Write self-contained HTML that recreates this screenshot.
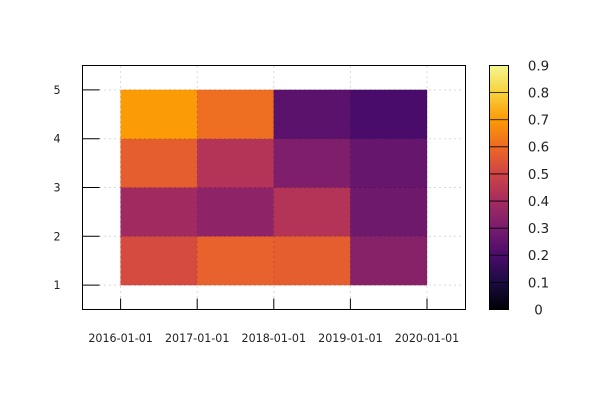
<!DOCTYPE html>
<html>
<head>
<meta charset="utf-8">
<style>
html,body{margin:0;padding:0;background:#fff;}
svg{display:block;}
text{font-family:"DejaVu Sans","Liberation Sans",sans-serif;fill:#222;}
</style>
</head>
<body>
<svg id="chart" width="600" height="400" viewBox="0 0 600 400" xmlns="http://www.w3.org/2000/svg">
  <rect x="0" y="0" width="600" height="400" fill="#ffffff"></rect>
  <g id="cells"></g>
  <g id="grid"></g>
  <g id="axes"></g>
  <g id="colorbar"></g>
</svg>
<script>
var xCategories = ["2016-01-01", "2017-01-01", "2018-01-01", "2019-01-01", "2020-01-01"];
var yCategories = [1, 2, 3, 4, 5];
var rowBetween1And2 = [0.52, 0.58, 0.57, 0.335];
var rowBetween2And3 = [0.39, 0.35, 0.435, 0.28];
var rowBetween3And4 = [0.57, 0.435, 0.315, 0.26];
var rowBetween4And5 = [0.70, 0.61, 0.235, 0.20];
var colorbarTicks = [0, 0.1, 0.2, 0.3, 0.4, 0.5, 0.6, 0.7, 0.8, 0.9];
var paletteColors = ["#000004", "#1b0c41", "#4a0c6b", "#781c6d", "#a52c60", "#cf4446", "#ed6925", "#fb9b06", "#f7d13d", "#f5f78f"];

var NS = "http://www.w3.org/2000/svg";
var plotLeft = 82.5, plotRight = 465.5, plotTop = 65.5, plotBottom = 309.5;
var cbLeft = 489.5, cbRight = 508.5, cbTop = 65.5, cbBottom = 309.5;
var cbMin = 0, cbMax = 0.9;

function xScale(i) { return plotLeft - 0.2 + (i + 0.5) / 5 * (plotRight - plotLeft); }
function yScale(v) { return plotBottom - (v - 0.5) / 5 * (plotBottom - plotTop); }
function cbScale(v) { return cbBottom - (v - cbMin) / (cbMax - cbMin) * (cbBottom - cbTop); }

function hexToRgb(h) {
  return [parseInt(h.substr(1, 2), 16), parseInt(h.substr(3, 2), 16), parseInt(h.substr(5, 2), 16)];
}
function colorFor(v) {
  var t = Math.max(0, Math.min(1, (v - cbMin) / (cbMax - cbMin))) * (paletteColors.length - 1);
  var k = Math.min(paletteColors.length - 2, Math.floor(t));
  var a = hexToRgb(paletteColors[k]), b = hexToRgb(paletteColors[k + 1]), f = t - k;
  return "rgb(" + Math.round(a[0] + (b[0] - a[0]) * f) + "," + Math.round(a[1] + (b[1] - a[1]) * f) + "," + Math.round(a[2] + (b[2] - a[2]) * f) + ")";
}
function make(tag, attrs, parent) {
  var el = document.createElementNS(NS, tag);
  for (var k in attrs) { el.setAttribute(k, attrs[k]); }
  parent.appendChild(el);
  return el;
}

var cellsG = document.getElementById("cells");
var gridG = document.getElementById("grid");
var axesG = document.getElementById("axes");
var cbG = document.getElementById("colorbar");

var rows = [rowBetween1And2, rowBetween2And3, rowBetween3And4, rowBetween4And5];
rows.forEach(function (row, r) {
  row.forEach(function (v, c) {
    var x0 = xScale(c), x1 = xScale(c + 1), y0 = yScale(yCategories[r + 1]), y1 = yScale(yCategories[r]);
    var cell = make("rect", { x: x0, y: y0, width: x1 - x0, height: y1 - y0, fill: colorFor(v), stroke: colorFor(v), "stroke-width": 0.3 }, cellsG);
    
    
  });
});

xCategories.forEach(function (label, i) {
  var x = xScale(i);
  var g = make("line", { x1: x, x2: x, y1: plotTop + 1, y2: plotBottom - 11, stroke: "#000", "stroke-opacity": 0.3, "stroke-width": 1, "stroke-dasharray": "1 4" }, gridG);
  
  
  var t = make("line", { x1: x, x2: x, y1: plotBottom, y2: plotBottom - 11, stroke: "#000", "stroke-width": 1 }, axesG);
  
  
  var l = make("text", { x: x, y: 342, "text-anchor": "middle", "font-size": 11.1 }, axesG);
  l.textContent = label;
  
  
});

yCategories.forEach(function (v) {
  var y = yScale(v);
  var g = make("line", { x1: plotLeft + 17, x2: plotRight - 3, y1: y, y2: y, stroke: "#000", "stroke-opacity": 0.3, "stroke-width": 1, "stroke-dasharray": "1 4" }, gridG);
  
  
  var t = make("line", { x1: plotLeft, x2: plotLeft + 17, y1: y, y2: y, stroke: "#000", "stroke-width": 1 }, axesG);
  
  
  var l = make("text", { x: 60.5, y: y + 4, "text-anchor": "end", "font-size": 11.1 }, axesG);
  l.textContent = v;
  
  
});

var plotBorder = make("rect", { x: plotLeft, y: plotTop, width: plotRight - plotLeft, height: plotBottom - plotTop, fill: "none", stroke: "#000", "stroke-width": 1 }, axesG);



var cbSteps = Math.round(cbBottom - cbTop);
for (var s = 0; s < cbSteps; s++) {
  var val = cbMin + (s + 0.5) / cbSteps * (cbMax - cbMin);
  var band = make("rect", { x: cbLeft, y: cbScale(cbMin + (s + 1) / cbSteps * (cbMax - cbMin)), width: cbRight - cbLeft, height: 1.1, fill: colorFor(val) }, cbG);
  
  
}
colorbarTicks.forEach(function (v) {
  var y = cbScale(v);
  var t = make("line", { x1: cbLeft, x2: cbRight, y1: y, y2: y, stroke: "#000", "stroke-width": 0.8 }, cbG);
  
  
  var l = make("text", { x: 538.5, y: y + 4.9, "text-anchor": "middle", "font-size": 13.4 }, cbG);
  l.textContent = v;
  
  
});
var cbBorder = make("rect", { x: cbLeft, y: cbTop, width: cbRight - cbLeft, height: cbBottom - cbTop, fill: "none", stroke: "#000", "stroke-width": 1 }, cbG);


</script>
</body>
</html>
